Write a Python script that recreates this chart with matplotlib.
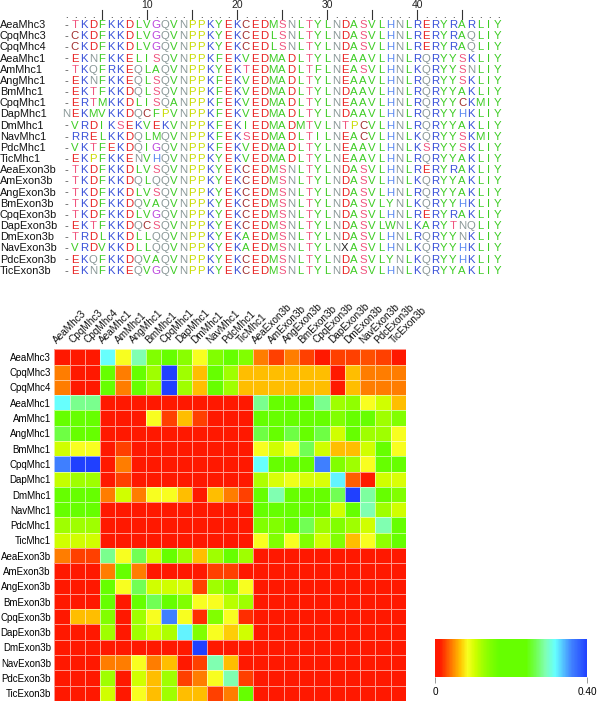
import numpy as np
import matplotlib
matplotlib.use("Agg")
import matplotlib.pyplot as plt
from matplotlib.colors import LinearSegmentedColormap

plt.rcParams['font.family'] = ['Liberation Sans', 'DejaVu Sans']

names = ["AeaMhc3", "CpqMhc3", "CpqMhc4", "AeaMhc1", "AmMhc1", "AngMhc1", "BmMhc1",
         "CpqMhc1", "DapMhc1", "DmMhc1", "NavMhc1", "PdcMhc1", "TicMhc1",
         "AeaExon3b", "AmExon3b", "AngExon3b", "BmExon3b", "CpqExon3b", "DapExon3b",
         "DmExon3b", "NavExon3b", "PdcExon3b", "TicExon3b"]

seqs = [
    "-TKDFKKDLVGQVNPPKYEKCEDMSNLTYLNDASVLHNLRERYRARLIY",
    "-CKDFKKDLVGQVNPPKYEKCEDLSNLTYLNDASVLHNLRERYRAQLIY",
    "-CKDFKKDLVGQVNPPKYEKCEDLSNLTYLNDASVLHNLRERYRAQLIY",
    "-EKNFKKELISQVNPPKFEKVEDMADLTYLNEAAVLHNLRQRYYSKLIY",
    "-TKQFRKEQLAQVNPPKYEKTEDMADLTFLNEASVLHNLKQRYYSNLIY",
    "-EKNFKKEQLSQVNPPKFEKVEDMADLTYLNEAAVLHNLRQRYYSKLIY",
    "-EKTFKKDQLSQVNPPKFEKVEDMADLTYLNDAAVLHNLRQRYYAKLIY",
    "-ERTMKKDLISQANPPKFEKVEDMADLTYLNEAAVLHNLRQRYYCKMIY",
    "NEKMVKKDQCFPVNPPKFEKVEDMADLTYLNDAAVLHNLRQRYYHKLIY",
    "-VRDIKSEKVEKVNPPKFEKIEDMADMTVLNTPCVLHNLRQRYYAKLIY",
    "-RRELKKDQLMQVNPPKFEKSEDMADLTILNEACVLHNLKQRYYSKMIY",
    "-VKTFEKDQIGQVNPPKFEKVEDMADLTYLNEAAVLHNLKSRYYSKLIY",
    "-EKPFKKENVHQVNPPKYEKVEDMADLTYLNEAAVLHNLRQRYYAKLIY",
    "-TKDFKKDLVSQVNPPKYEKCEDMSNLTYLNDASVLHNLRERYRAKLIY",
    "-TKDFKKDQLQQVNPPKYEKCEDMSNLTYLNDASVLHNLKQRYYAKLIY",
    "-TKDFKKDLVSQVNPPKYEKCEDMSNLTYLNDASVLHNLRQRYYAKLIY",
    "-TKDFKKDQVAQVNPPKYEKCEDMSNLTYLNDASVLYNLKQRYYHKLIY",
    "-TKDFKKDLVGQVNPPKYEKCEDMSNLTYLNDASVLHNLRERYRAKLIY",
    "-EKTFKKDQCSQVNPPKYEKCEDMSNLTYLNDASVLWNLKARYTNQLIY",
    "-TRDLKKDLLQQVNPPKYEKAEDMSNLTYLNDASVLHNLRQRYYNKLIY",
    "-VRDVKKDLLQQVNPPKYEKAEDMSNLTYLNXASVLHNLKQRYYHKLIY",
    "-EKQFKKDQVAQVNPPKYEKCEDMSNLTYLNDASVLYNLKQRYYHKLIY",
    "-EKNFKKEQVGQVNPPKYEKCEDMSNLTYLNDASVLHNLKQRYYAKLIY",
]

aa_colors = {
    'D': '#e82222', 'E': '#e82222',
    'K': '#3850d8', 'R': '#3850d8', 'H': '#5a88f0',
    'S': '#f0557f', 'T': '#f0557f',
    'A': '#3ccc22', 'V': '#3ccc22', 'L': '#3ccc22', 'I': '#3ccc22',
    'M': '#3ccc22', 'F': '#3ccc22', 'Y': '#3ccc22', 'W': '#3ccc22',
    'N': '#8a9898', 'Q': '#8a9898',
    'G': '#bb44dd', 'P': '#c8dc00', 'C': '#a02c2c',
    'X': '#222222', '-': '#555555',
}

R = 0.005
dist = [
    [R, R, R, 0.315, 0.085, 0.29, 0.145, 0.2, 0.14, 0.085, 0.145, 0.2, 0.145, 0.045, 0.025, 0.045, 0.025, R, 0.025, 0.025, 0.03, 0.025, R],
    [0.045, R, R, 0.2, 0.045, 0.2, 0.125, 0.40, 0.125, 0.065, 0.2, 0.125, 0.065, 0.065, 0.065, 0.065, 0.065, 0.065, R, 0.065, 0.045, 0.045, 0.045],
    [0.045, R, R, 0.2, 0.045, 0.2, 0.125, 0.40, 0.125, 0.065, 0.2, 0.125, 0.065, 0.065, 0.065, 0.065, 0.065, 0.065, R, 0.065, 0.045, 0.045, 0.045],
    [0.315, 0.28, 0.28, R, R, R, R, R, R, R, R, R, R, 0.28, 0.2, 0.2, 0.2, 0.28, 0.125, 0.135, 0.085, 0.105, 0.065],
    [0.2, 0.2, 0.2, R, R, R, 0.085, 0.025, 0.065, 0.025, R, R, R, 0.2, 0.2, 0.2, 0.2, 0.2, 0.145, 0.2, 0.2, 0.125, 0.145],
    [0.26, 0.2, 0.2, R, R, R, R, R, R, R, R, R, R, 0.26, 0.2, 0.26, 0.2, 0.26, 0.105, 0.2, 0.125, 0.125, 0.085],
    [0.105, 0.085, 0.085, R, 0.025, R, R, R, R, R, R, R, R, 0.085, 0.105, 0.085, 0.265, 0.105, 0.065, 0.065, 0.105, 0.2, 0.085],
    [0.36, 0.40, 0.40, R, 0.045, R, R, R, R, R, R, R, R, 0.315, 0.2, 0.2, 0.2, 0.36, 0.145, 0.125, 0.085, 0.2, 0.2],
    [0.11, 0.125, 0.125, R, 0.025, R, R, R, R, R, R, R, R, 0.12, 0.1, 0.09, 0.1, 0.1, 0.32, 0.035, 0.012, 0.105, 0.1],
    [0.2, 0.2, 0.2, 0.045, 0.105, 0.045, 0.085, 0.085, 0.065, R, 0.065, 0.045, 0.025, 0.2, 0.29, 0.2, 0.2, 0.2, 0.265, 0.40, 0.285, 0.2, 0.145],
    [0.2, 0.2, 0.2, R, R, R, R, R, R, R, R, R, R, 0.2, 0.19, 0.2, 0.2, 0.2, 0.105, 0.2, 0.29, 0.125, 0.105],
    [0.125, 0.125, 0.125, R, R, R, R, R, R, R, R, R, R, 0.145, 0.145, 0.2, 0.265, 0.125, 0.145, 0.125, 0.105, 0.29, 0.2],
    [0.105, 0.105, 0.105, R, R, R, R, R, R, R, R, R, R, 0.085, 0.145, 0.085, 0.145, 0.105, 0.145, 0.065, 0.085, 0.135, 0.2],
    [0.045, 0.025, 0.025, 0.28, 0.085, 0.265, 0.105, 0.2, 0.125, 0.065, 0.125, 0.2, 0.125, R, R, R, R, R, R, R, R, R, R],
    [R, R, R, 0.045, 0.2, 0.045, R, R, R, R, 0.025, 0.025, R, R, R, R, R, R, R, R, R, R, R],
    [R, R, R, 0.2, 0.085, 0.265, 0.105, 0.105, 0.1, 0.025, 0.125, 0.145, 0.085, R, R, R, R, R, R, R, R, R, R],
    [R, R, R, 0.2, R, 0.2, 0.265, 0.2, 0.145, 0.085, 0.085, 0.115, 0.125, R, R, R, R, R, R, R, R, R, R],
    [R, 0.065, 0.065, 0.145, R, 0.125, 0.085, 0.36, 0.085, 0.02, 0.145, 0.085, 0.02, R, R, R, R, R, R, R, R, R, R],
    [R, R, R, 0.125, R, 0.125, 0.105, 0.12, 0.32, 0.145, 0.085, 0.07, 0.105, R, R, R, R, R, R, R, R, R, R],
    [R, R, R, R, R, R, R, R, R, 0.40, R, R, R, R, R, R, R, R, R, R, R, R, R],
    [R, R, R, 0.045, 0.045, 0.085, 0.045, 0.065, R, 0.025, 0.29, 0.065, R, R, R, R, R, R, R, R, R, R, R],
    [R, R, R, 0.125, R, 0.105, 0.065, 0.125, 0.025, 0.045, 0.085, 0.29, 0.025, R, R, R, R, R, R, R, R, R, R],
    [R, R, R, 0.105, R, 0.085, 0.065, 0.125, 0.065, 0.065, 0.025, 0.045, 0.2, R, R, R, R, R, R, R, R, R, R],
]

vmax = 0.40
cmap = LinearSegmentedColormap.from_list("dist", [
    (0.0, '#ff1800'), (0.03, '#ff1800'), (0.0625, '#ff4000'), (0.1125, '#ff8000'),
    (0.1625, '#ffc000'), (0.2125, '#f8ff20'), (0.2625, '#d0ff00'), (0.3125, '#a0ff00'),
    (0.3625, '#80ff00'), (0.42, '#66ff00'), (0.6, '#66ff00'), (0.66, '#70ff50'),
    (0.725, '#80ffb0'), (0.79, '#66ffff'), (0.9, '#4080ff'), (1.0, '#2040ff')])

fig = plt.figure(figsize=(6, 7.02), dpi=100)

# alignment block
axa = fig.add_axes([0, 0.5727, 1, 0.4273])
axa.set_xlim(-6.333, 60.333)
axa.set_ylim(24.62, -2.238)
axa.axis('off')
ncol = len(seqs[0])
for c in range(1, ncol + 1):
    if c % 5 == 0:
        axa.plot([c, c], [-1.35, -0.55], color='#333333', lw=0.8)
    else:
        axa.text(c, -0.85, '.', ha='center', va='center', fontsize=6.5, color='#333333')
    if c % 10 == 0:
        axa.text(c, -1.8, str(c), ha='center', va='center', fontsize=7.5, color='#222222')
for r, (nm, s) in enumerate(zip(names, seqs)):
    axa.text(-6.333, r, nm, ha='left', va='center', fontsize=7.8, color='#111111')
    for c, ch in enumerate(s, start=1):
        axa.text(c, r, ch, ha='center', va='center', fontsize=8.2,
                 color=aa_colors.get(ch, '#222222'))

# heatmap
ax = fig.add_axes([0.0905, 0.0015, 0.5862, 0.501])
mesh = ax.pcolormesh(np.array(dist), cmap=cmap, vmin=0, vmax=vmax,
                     edgecolors=(1, 1, 1, 0.55), linewidth=0.6)
ax.set_xlim(0, len(names))
ax.set_ylim(len(names), 0)
for sp in ax.spines.values():
    sp.set_visible(False)
ax.set_xticks([])
ax.set_yticks(np.arange(len(names)) + 0.5)
ax.set_yticklabels(names, fontsize=7)
ax.tick_params(axis='y', length=0, pad=2.5)
for i, nm in enumerate(names):
    ax.text(i + 0.3, -0.25, nm, rotation=45, rotation_mode='anchor',
            ha='left', va='bottom', fontsize=7.2, color='#111111')

# colour scale
cax = fig.add_axes([0.725, 0.0352, 0.2538, 0.0541])
cb = fig.colorbar(mesh, cax=cax, orientation='horizontal')
cb.outline.set_visible(False)
cb.set_ticks([0, vmax])
cb.set_ticklabels(['0', '0.40'])
cax.tick_params(labelsize=7.2, length=4, width=0.6, color='#888888', pad=3)

fig.savefig("out.png", dpi=100)
